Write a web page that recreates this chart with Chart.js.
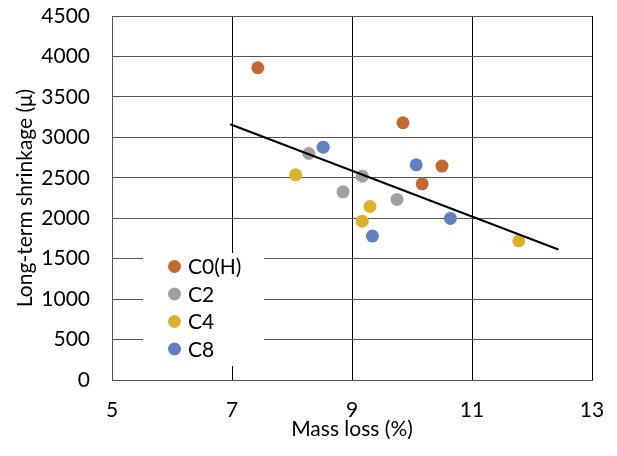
<!DOCTYPE html>
<html>
<head>
<meta charset="utf-8">
<script src="https://cdn.jsdelivr.net/npm/chart.js@4"></script>
<style>
  html, body { margin: 0; padding: 0; background: #fff; }
</style>
</head>
<body>
<canvas id="c" width="617" height="456"></canvas>
<script>
// series names and colours
const seriesNames = ['C0(H)', 'C2', 'C4', 'C8'];
const seriesColors = ['#c4692e', '#a0a0a0', '#dcb02b', '#5f80c3'];

// mass loss (%) / long-term shrinkage per series
const c0hX = [7.43, 9.85, 10.50, 10.17];
const c0hY = [3860, 3180, 2645, 2425];
const c2X = [8.28, 9.17, 8.85, 9.75];
const c2Y = [2800, 2520, 2326, 2232];
const c4X = [8.06, 9.30, 9.17, 11.78];
const c4Y = [2536, 2145, 1964, 1721];
const c8X = [8.52, 10.07, 10.64, 9.34];
const c8Y = [2878, 2660, 1997, 1779];

// linear trend end points
const trendX = [6.97, 12.44];
const trendY = [3162, 1614];

const xMin = 5, xMax = 13, xStep = 2;
const yMin = 0, yMax = 4500, yStep = 500;

const FONT = 'Lato, "Liberation Sans", sans-serif';
const FSIZE = 21;

function pts(xs, ys) {
  return xs.map(function (x, i) { return { x: x, y: ys[i] }; });
}

const seriesX = [c0hX, c2X, c4X, c8X];
const seriesY = [c0hY, c2Y, c4Y, c8Y];

const datasets = seriesNames.map(function (name, i) {
  return {
    type: 'scatter',
    label: name,
    data: pts(seriesX[i], seriesY[i]),
    backgroundColor: seriesColors[i],
    borderWidth: 0,
    pointRadius: 6.5,
    pointHoverRadius: 6.5
  };
});

datasets.push({
  type: 'line',
  label: 'trend',
  data: pts(trendX, trendY),
  borderColor: '#000',
  borderWidth: 2,
  pointRadius: 0,
  fill: false,
  order: -1
});

// legend drawn inside the plot on a white box
const boxLegend = {
  id: 'boxLegend',
  afterDraw: function (chart) {
    const ctx = chart.ctx;
    const a = chart.chartArea;
    const bx = a.left + 31, by = a.top + 237;
    ctx.save();
    ctx.fillStyle = '#fff';
    ctx.fillRect(bx, by, 121, 113);
    ctx.font = FSIZE + 'px ' + FONT;
    ctx.textBaseline = 'middle';
    seriesNames.forEach(function (name, i) {
      const cy = by + 13.5 + i * 27.5;
      ctx.beginPath();
      ctx.fillStyle = seriesColors[i];
      ctx.arc(bx + 31.5, cy, 6.5, 0, Math.PI * 2);
      ctx.fill();
      ctx.fillStyle = '#000';
      ctx.fillText(name, bx + 45, cy + 1);
    });
    ctx.restore();
  }
};

function plain(v) { return String(v); }

new Chart(document.getElementById('c'), {
  data: { datasets: datasets },
  plugins: [boxLegend],
  options: {
    responsive: false,
    animation: false,
    layout: { padding: { top: 16, right: 25, left: 0, bottom: 0 } },
    plugins: {
      legend: { display: false },
      tooltip: { enabled: false }
    },
    scales: {
      x: {
        type: 'linear',
        min: xMin, max: xMax,
        afterFit: function (s) { s.height = 76; s.paddingLeft = 0; s.paddingRight = 0; },
        ticks: { stepSize: xStep, color: '#000', padding: 18, callback: plain, font: { family: FONT, size: FSIZE } },
        grid: { color: '#000', lineWidth: 1, drawTicks: false },
        border: { color: '#555' },
        title: {
          display: true, text: 'Mass loss (%)', color: '#000',
          font: { family: FONT, size: FSIZE }, padding: { top: 0, bottom: 14 }
        }
      },
      y: {
        type: 'linear',
        min: yMin, max: yMax,
        afterFit: function (s) { s.width = 112; s.paddingTop = 0; s.paddingBottom = 0; },
        ticks: { stepSize: yStep, color: '#000', padding: 22, callback: plain, font: { family: FONT, size: FSIZE } },
        grid: { color: '#555', lineWidth: 1, drawTicks: false },
        border: { color: '#555' },
        title: {
          display: true, text: 'Long-term shrinkage (μ)', color: '#000',
          font: { family: FONT, size: FSIZE }, padding: { top: 13, bottom: 0 }
        }
      }
    }
  }
});
</script>
</body>
</html>
